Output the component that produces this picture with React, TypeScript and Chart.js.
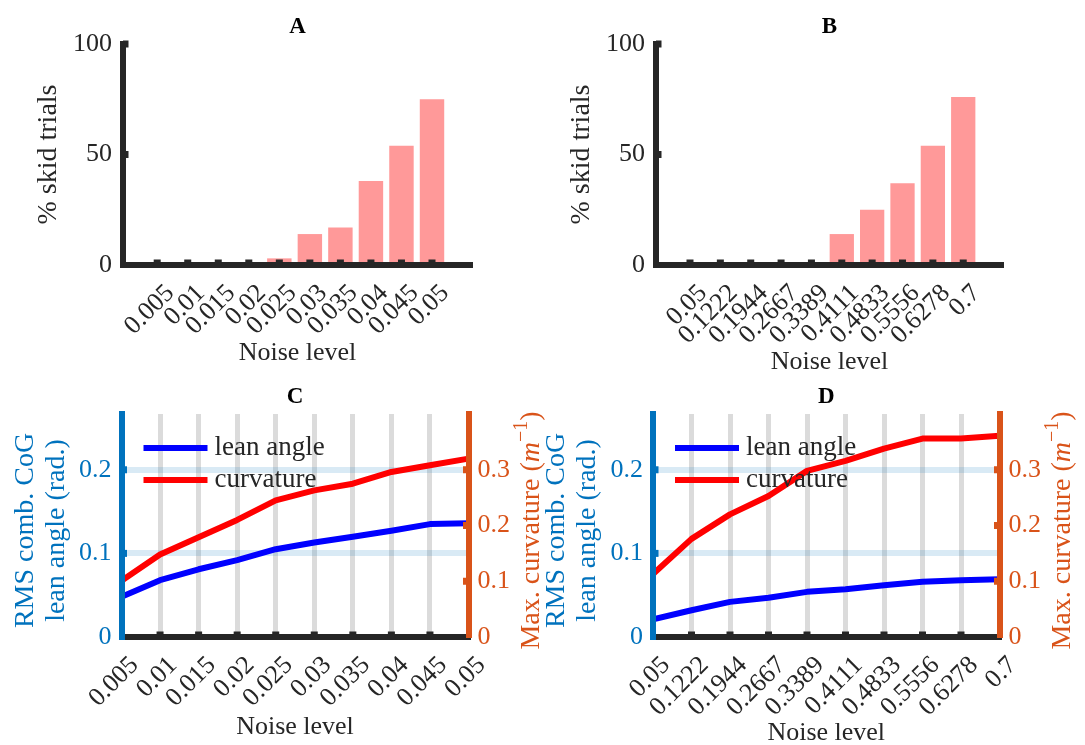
import React, { useEffect, useRef } from 'react';
import { Chart, registerables } from 'chart.js';

Chart.register(...registerables);

// ---------------- data ----------------
const noiseLabelsA = ['0.005', '0.01', '0.015', '0.02', '0.025', '0.03', '0.035', '0.04', '0.045', '0.05'];
const noiseLabelsB = ['0.05', '0.1222', '0.1944', '0.2667', '0.3389', '0.4111', '0.4833', '0.5556', '0.6278', '0.7'];
const skidPctA = [0, 0, 0, 0, 3, 14, 17, 38, 54, 75];
const skidPctB = [0, 0, 0, 0, 0, 14, 25, 37, 54, 76];
const leanAngleC = [0.048, 0.068, 0.081, 0.092, 0.105, 0.113, 0.12, 0.127, 0.135, 0.136];
const curvatureC = [0.101, 0.148, 0.179, 0.21, 0.245, 0.263, 0.275, 0.296, 0.308, 0.32];
const leanAngleD = [0.021, 0.032, 0.042, 0.047, 0.054, 0.057, 0.062, 0.066, 0.068, 0.069];
const curvatureD = [0.113, 0.176, 0.22, 0.253, 0.298, 0.316, 0.338, 0.356, 0.356, 0.361];
const skidTicks = [0, 50, 100];
const leanTicks = [0, 0.1, 0.2];
const curvTicks = [0, 0.1, 0.2, 0.3];
const panelTitles = ['A', 'B', 'C', 'D'];
const xAxisTitle = 'Noise level';
const skidAxisTitle = ['% skid trials'];
const leanAxisTitle = ['RMS comb. CoG', 'lean angle (rad.)'];
const seriesNames = ['lean angle', 'curvature'];

// ---------------- style ----------------
const FONT = "'Liberation Serif', 'Times New Roman', serif";
const TXT = '#262626';
const AX_BLUE = '#0072BD';
const AX_ORANGE = '#D95319';
const BAR_COLOR = '#FF9999';
const W = 1085;
const H = 745;
const YW = 60;
const XH = 40;

const GEO: any = {
  A: { left: 123, top: 44, right: 472, bottom: 265 },
  B: { left: 656, top: 44, right: 1003, bottom: 265 },
  C: { left: 121.5, top: 414, right: 468.5, bottom: 637 },
  D: { left: 653, top: 414, right: 999.5, bottom: 637 },
};

const fmt = (v: number) => String(Math.round(v * 1000) / 1000);

function drawSegments(ctx: CanvasRenderingContext2D, segs: any[], cx: number, cy: number, rot: number) {
  ctx.save();
  ctx.translate(cx, cy);
  ctx.rotate(rot);
  let total = 0;
  const widths = segs.map((s) => {
    ctx.font = s.font;
    const w = ctx.measureText(s.text).width;
    total += w;
    return w;
  });
  let x = -total / 2;
  ctx.textAlign = 'left';
  ctx.textBaseline = 'middle';
  segs.forEach((s, i) => {
    ctx.font = s.font;
    ctx.fillStyle = s.color;
    ctx.fillText(s.text, x, s.dy || 0);
    x += widths[i];
  });
  ctx.restore();
}

function makeDecor(cfg: any) {
  return {
    id: 'decor' + cfg.title,
    afterDatasetsDraw(chart: any) {
      if (!cfg.legend) return;
      const { ctx, chartArea: a } = chart;
      chart.data.datasets.forEach((ds: any, i: number) => {
        const y = a.top + cfg.legend.top + i * cfg.legend.gap;
        ctx.save();
        ctx.strokeStyle = ds.borderColor;
        ctx.lineWidth = ds.borderWidth;
        ctx.lineCap = 'butt';
        ctx.beginPath();
        ctx.moveTo(a.left + cfg.legend.x0, y);
        ctx.lineTo(a.left + cfg.legend.x1, y);
        ctx.stroke();
        ctx.font = `27px ${FONT}`;
        ctx.fillStyle = TXT;
        ctx.textAlign = 'left';
        ctx.textBaseline = 'middle';
        ctx.fillText(ds.label, a.left + cfg.legend.tx, y);
        ctx.restore();
      });
    },
    afterDraw(chart: any) {
      const { ctx, chartArea: a } = chart;
      const cx = (a.left + a.right) / 2;
      const cy = (a.top + a.bottom) / 2;

      // tick marks (inward squares)
      cfg.tickMarks.forEach((tm: any) => {
        const sc = chart.scales[tm.scale];
        ctx.save();
        ctx.fillStyle = tm.color;
        sc.ticks.forEach((t: any, i: number) => {
          if (tm.skipEnds && (i === 0 || i === sc.ticks.length - 1)) return;
          if (tm.side !== 'bottom' && t.value === 0) return;
          const p = sc.getPixelForValue(t.value);
          if (tm.side === 'bottom') ctx.fillRect(p - 3.5, a.bottom - 5.5, 7, 6);
          else if (tm.side === 'left') ctx.fillRect(a.left, p - 3.5, 5.5, 7);
          else ctx.fillRect(a.right - 5.5, p - 3.5, 5.5, 7);
        });
        ctx.restore();
      });

      // x tick labels rotated 45 degrees
      const xs = chart.scales.x;
      ctx.save();
      ctx.font = `26px ${FONT}`;
      ctx.fillStyle = TXT;
      ctx.textAlign = 'right';
      ctx.textBaseline = 'alphabetic';
      xs.ticks.forEach((t: any, i: number) => {
        const px = xs.getPixelForValue(t.value);
        ctx.save();
        ctx.translate(px + cfg.xLabelDx, a.bottom + cfg.xLabelDy);
        ctx.rotate(-Math.PI / 4);
        ctx.fillText(cfg.xLabels[i], 0, 0);
        ctx.restore();
      });
      ctx.restore();

      // panel title
      ctx.save();
      ctx.font = `bold 23px ${FONT}`;
      ctx.fillStyle = '#000';
      ctx.textAlign = 'center';
      ctx.textBaseline = 'middle';
      ctx.fillText(cfg.title, cx, a.top - 17);
      ctx.restore();

      // x axis title
      drawSegments(ctx, [{ text: xAxisTitle, font: `26px ${FONT}`, color: TXT }], cx, a.bottom + cfg.xTitleDy, 0);

      // left y title (one or two lines)
      cfg.yLeft.lines.forEach((ln: string, i: number) => {
        drawSegments(ctx, [{ text: ln, font: `28px ${FONT}`, color: cfg.yLeft.color }], a.left + cfg.yLeft.dx[i], cy + cfg.yLeft.dy, -Math.PI / 2);
      });

      // right y title
      if (cfg.yRight) {
        const f = `28px ${FONT}`;
        drawSegments(
          ctx,
          [
            { text: 'Max. curvature (', font: f, color: AX_ORANGE },
            { text: 'm', font: `italic 28px ${FONT}`, color: AX_ORANGE },
            { text: '\u22121', font: `20px ${FONT}`, color: AX_ORANGE, dy: -10 },
            { text: ')', font: f, color: AX_ORANGE },
          ],
          a.right + cfg.yRight.dx,
          cy + cfg.yLeft.dy,
          -Math.PI / 2
        );
      }
    },
  };
}

const tickFont = { family: FONT, size: 26 };
const setTicks = (vals: number[]) => (s: any) => {
  s.ticks = vals.map((v) => ({ value: v }));
};

function barConfig(key: string, title: string, labels: string[], values: number[], xTitleDy: number, yDx: number) {
  const g = GEO[key];
  const idx = labels.map((_, i) => i + 1);
  return {
    type: 'bar',
    data: {
      datasets: [
        {
          label: '% skid trials',
          data: values.map((v, i) => ({ x: i + 1, y: v })),
          backgroundColor: BAR_COLOR,
          borderWidth: 0,
          categoryPercentage: 1,
          barPercentage: 0.8,
        },
      ],
    },
    options: {
      animation: false,
      responsive: false,
      events: [],
      layout: { padding: { left: g.left - YW, top: g.top, right: W - g.right, bottom: H - g.bottom - XH } },
      plugins: { legend: { display: false }, tooltip: { enabled: false }, title: { display: false } },
      scales: {
        x: {
          type: 'linear',
          offset: false,
          min: -0.12,
          max: 11.31,
          afterBuildTicks: setTicks(idx),
          ticks: { display: false },
          grid: { display: false, drawTicks: false },
          border: { display: true, color: TXT, width: 6, z: 1 },
          afterFit: (s: any) => {
            s.height = XH;
          },
        },
        y: {
          type: 'linear',
          min: 0,
          max: 100,
          afterBuildTicks: setTicks(skidTicks),
          ticks: { color: TXT, font: tickFont, padding: 11, callback: (v: number) => fmt(v) },
          grid: { display: false, drawTicks: false },
          border: { display: true, color: TXT, width: 6, z: 1 },
          afterFit: (s: any) => {
            s.width = YW;
          },
        },
      },
    },
    plugins: [
      makeDecor({
        title,
        xLabels: labels,
        xLabelDx: 18,
        xLabelDy: 29,
        xTitleDy,
        yLeft: { lines: skidAxisTitle, dx: [yDx], dy: 0, color: TXT },
        tickMarks: [
          { scale: 'x', side: 'bottom', color: TXT, skipEnds: false },
          { scale: 'y', side: 'left', color: TXT },
        ],
      }),
    ],
  };
}

function lineConfig(key: string, title: string, labels: string[], lean: number[], curv: number[], xTitleDy: number) {
  const g = GEO[key];
  const idx = labels.map((_, i) => i + 1);
  const n = labels.length;
  return {
    type: 'line',
    data: {
      datasets: [
        {
          label: seriesNames[0],
          data: lean.map((v, i) => ({ x: i + 1, y: v })),
          borderColor: '#0000FF',
          borderWidth: 6,
          pointRadius: 0,
          tension: 0,
          yAxisID: 'y',
          borderJoinStyle: 'round',
        },
        {
          label: seriesNames[1],
          data: curv.map((v, i) => ({ x: i + 1, y: v })),
          borderColor: '#FF0000',
          borderWidth: 6,
          pointRadius: 0,
          tension: 0,
          yAxisID: 'y1',
          borderJoinStyle: 'round',
        },
      ],
    },
    options: {
      animation: false,
      responsive: false,
      events: [],
      layout: { padding: { left: g.left - YW, top: g.top, right: W - g.right - YW, bottom: H - g.bottom - XH } },
      plugins: { legend: { display: false }, tooltip: { enabled: false }, title: { display: false } },
      scales: {
        x: {
          type: 'linear',
          min: 1,
          max: n,
          afterBuildTicks: setTicks(idx),
          ticks: { display: false },
          grid: {
            display: true,
            drawTicks: false,
            lineWidth: 5,
            color: (c: any) => (c.index === 0 || c.index === n - 1 ? 'rgba(0,0,0,0)' : 'rgba(0,0,0,0.14)'),
          },
          border: { display: true, color: TXT, width: 6, z: 1 },
          afterFit: (s: any) => {
            s.height = XH;
          },
        },
        y: {
          type: 'linear',
          position: 'left',
          min: 0,
          max: 0.2667,
          afterBuildTicks: setTicks(leanTicks),
          ticks: { color: AX_BLUE, font: tickFont, padding: 10, callback: (v: number) => fmt(v) },
          grid: { display: true, drawTicks: false, lineWidth: 6, color: (c: any) => (c.tick && c.tick.value === 0 ? 'rgba(0,0,0,0)' : 'rgba(0,114,189,0.15)') },
          border: { display: true, color: AX_BLUE, width: 6, z: 2 },
          afterFit: (s: any) => {
            s.width = YW;
          },
        },
        y1: {
          type: 'linear',
          position: 'right',
          min: 0,
          max: 0.4,
          afterBuildTicks: setTicks(curvTicks),
          ticks: { color: AX_ORANGE, font: tickFont, padding: 9, callback: (v: number) => fmt(v) },
          grid: { display: false, drawTicks: false },
          border: { display: true, color: AX_ORANGE, width: 6, z: 2 },
          afterFit: (s: any) => {
            s.width = YW;
          },
        },
      },
    },
    plugins: [
      makeDecor({
        title,
        xLabels: labels,
        xLabelDx: 18,
        xLabelDy: 29,
        xTitleDy,
        yLeft: { lines: leanAxisTitle, dx: [-96, -65], dy: 5, color: AX_BLUE },
        yRight: { dx: 63 },
        legend: { top: 34, gap: 32, x0: 22, x1: 86, tx: 93 },
        tickMarks: [
          { scale: 'x', side: 'bottom', color: TXT, skipEnds: true },
          { scale: 'y', side: 'left', color: AX_BLUE },
          { scale: 'y1', side: 'right', color: AX_ORANGE },
        ],
      }),
    ],
  };
}

function Panel({ config }: { config: any }) {
  const ref = useRef<HTMLCanvasElement | null>(null);
  useEffect(() => {
    if (!ref.current) return;
    const chart = new Chart(ref.current, config);
    return () => chart.destroy();
  }, [config]);
  return (
    <canvas
      ref={ref}
      width={W}
      height={H}
      style={{ position: 'absolute', left: 0, top: 0, width: W, height: H }}
    />
  );
}

const configs = [
  barConfig('A', panelTitles[0], noiseLabelsA, skidPctA, 88, -74),
  barConfig('B', panelTitles[1], noiseLabelsB, skidPctB, 97, -74),
  lineConfig('C', panelTitles[2], noiseLabelsA, leanAngleC, curvatureC, 90),
  lineConfig('D', panelTitles[3], noiseLabelsB, leanAngleD, curvatureD, 96),
];

export default function App() {
  return (
    <div style={{ position: 'absolute', left: 0, top: 0, width: W, height: H, background: '#fff', overflow: 'hidden' }}>
      {configs.map((c, i) => (
        <Panel key={i} config={c} />
      ))}
    </div>
  );
}
